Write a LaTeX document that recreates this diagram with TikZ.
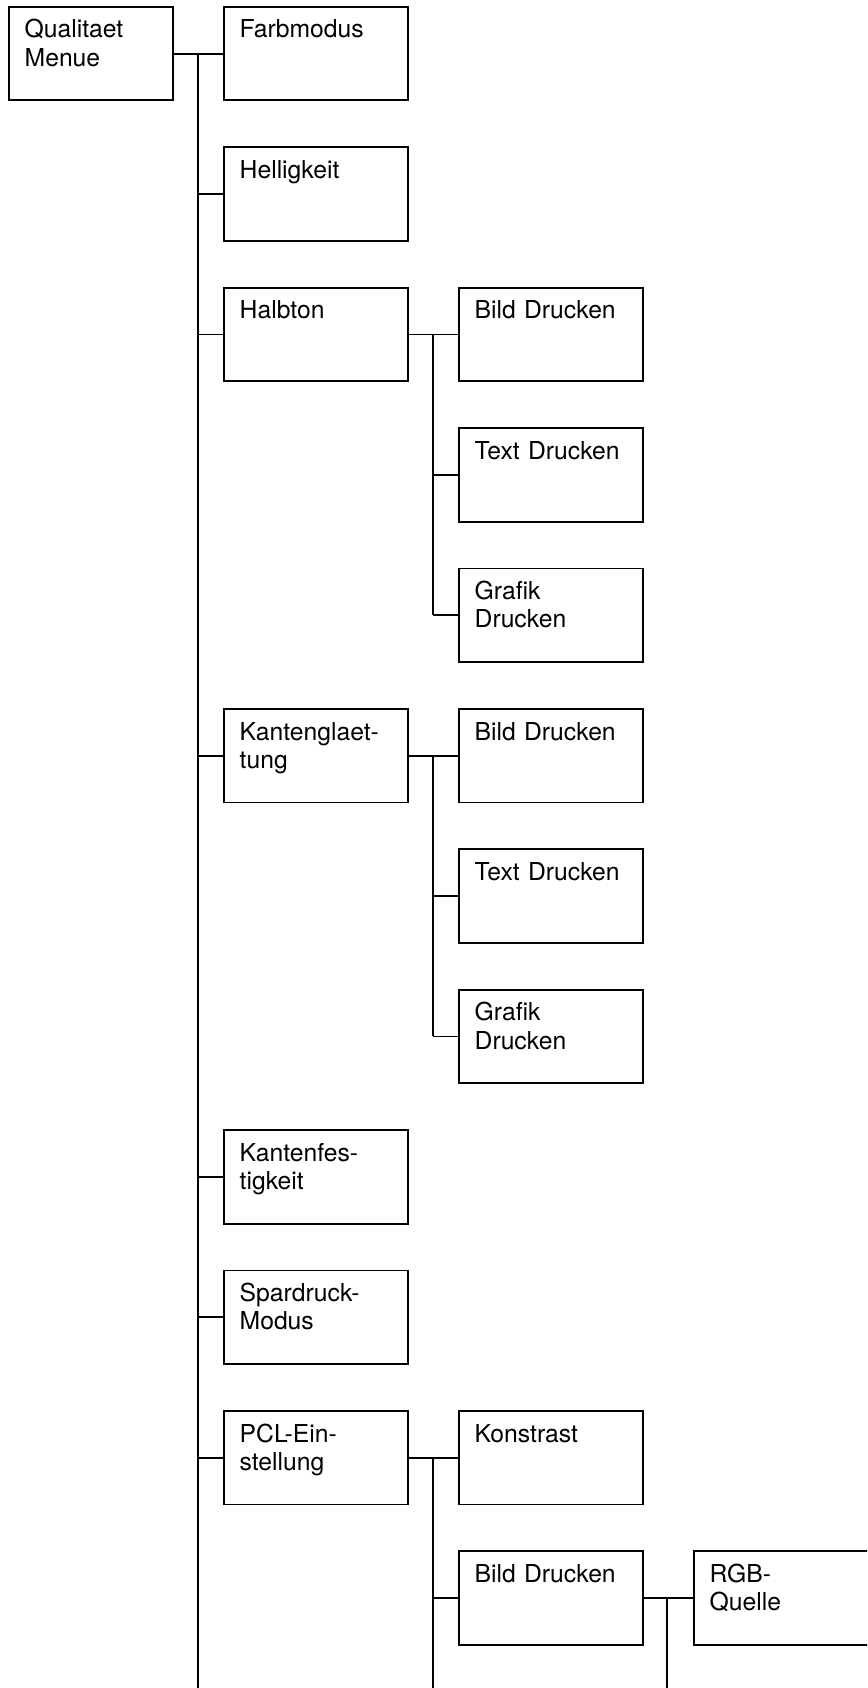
\documentclass[tikz,border=0pt]{standalone}
\usepackage{fontspec}
\setmainfont{TeX Gyre Heros}
\usetikzlibrary{calc}

\tikzset{
  menubox/.style={draw, rectangle, anchor=north west, minimum width=184pt,
    minimum height=93.5pt, inner sep=0pt, line width=1.8pt},
  menutext/.style={anchor=base west, inner sep=0pt, text width=170pt,
    align=left, font=\fontsize{24.7}{28.3}\selectfont},
  link/.style={line width=1.8pt},
}

% one menu entry: a box with its caption in the upper left corner
\newcommand\menuentry[5][]{%
  \node[menubox,#1] (#2) at (#3,#4) {};
  \node[menutext] (#2-label) at ($(#2.north west)+(16.5,32)$) {#5};
}

\begin{document}
\begin{tikzpicture}[x=1pt, y=-1pt]
  \useasboundingbox (0,0) rectangle (867,1688);
  \clip (0,0) rectangle (867,1688);

  % root
  \menuentry[minimum width=164pt]{q}{8}{6}{Qualitaet\\Menue}

  % first level
  \menuentry{farb}{223}{6}{Farbmodus}
  \menuentry{hell}{223}{146.4}{Helligkeit}
  \menuentry{halb}{223}{286.8}{Halbton}
  \menuentry{kgl}{223}{708}{Kantenglaet-\\tung}
  \menuentry{kfe}{223}{1129.2}{Kantenfes-\\tigkeit}
  \menuentry{spar}{223}{1269.6}{Spardruck-\\Modus}
  \menuentry{pcl}{223}{1410}{PCL-Ein-\\stellung}

  % second level under Halbton
  \menuentry{hbild}{458}{286.8}{Bild Drucken}
  \menuentry{htext}{458}{427.2}{Text Drucken}
  \menuentry{hgraf}{458}{567.6}{Grafik\\Drucken}

  % second level under Kantenglaettung
  \menuentry{kbild}{458}{708}{Bild Drucken}
  \menuentry{ktext}{458}{848.4}{Text Drucken}
  \menuentry{kgraf}{458}{988.8}{Grafik\\Drucken}

  % second level under PCL-Einstellung
  \menuentry{pkon}{458}{1410}{Konstrast}
  \menuentry{pbild}{458}{1550.4}{Bild Drucken}

  % third level
  \menuentry{rgb}{693}{1550.4}{RGB-\\Quelle}

  % trunk lines
  \coordinate (ta) at (198,1688);
  \coordinate (tb) at (433,1688);
  \coordinate (tc) at (667,1688);

  % root to first level
  \draw[link] (q.east) -- (farb.west);
  \draw[link] (ta |- farb.west) -- (ta);
  \foreach \n in {hell,halb,kgl,kfe,spar,pcl}
    \draw[link] (ta |- \n.west) -- (\n.west);

  % Halbton branch
  \draw[link] (halb.east) -- (hbild.west);
  \draw[link] (tb |- hbild.west) -- (tb |- hgraf.west);
  \draw[link] (tb |- htext.west) -- (htext.west);
  \draw[link] (tb |- hgraf.west) -- (hgraf.west);

  % Kantenglaettung branch
  \draw[link] (kgl.east) -- (kbild.west);
  \draw[link] (tb |- kbild.west) -- (tb |- kgraf.west);
  \draw[link] (tb |- ktext.west) -- (ktext.west);
  \draw[link] (tb |- kgraf.west) -- (kgraf.west);

  % PCL branch
  \draw[link] (pcl.east) -- (pkon.west);
  \draw[link] (tb |- pkon.west) -- (tb);
  \draw[link] (tb |- pbild.west) -- (pbild.west);

  % Bild Drucken branch
  \draw[link] (pbild.east) -- (rgb.west);
  \draw[link] (tc |- rgb.west) -- (tc);
\end{tikzpicture}
\end{document}
